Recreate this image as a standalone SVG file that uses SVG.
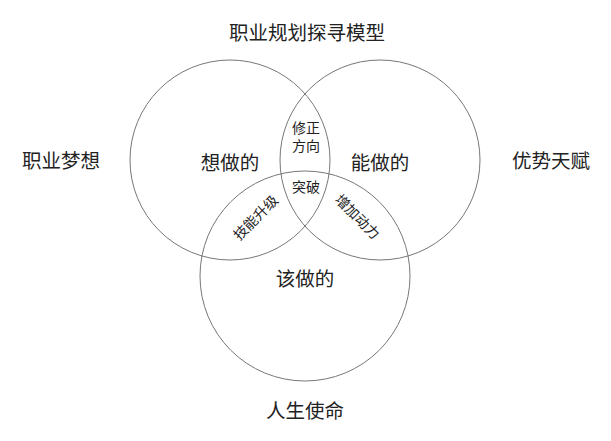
<svg xmlns="http://www.w3.org/2000/svg" width="611" height="441" viewBox="0 0 611 441">
<style>
.c{fill:none;stroke:#777;stroke-width:1}
text{font-family:"Noto Sans CJK SC","Noto Sans",sans-serif;fill:#222;text-anchor:middle;dominant-baseline:central}
.l{font-size:19.5px}
.s{font-size:14px}
</style>
<rect width="611" height="441" fill="#fff"/>
<g id="connectors"></g>
<g id="circle-want"><circle class="c" cx="230" cy="160" r="100"/><text class="l" x="230" y="161">想做的</text></g>
<g id="circle-can"><circle class="c" cx="380" cy="160" r="100"/><text class="l" x="380" y="161">能做的</text></g>
<g id="circle-should"><circle class="c" cx="305" cy="276" r="105"/><text class="l" x="305" y="277">该做的</text></g>
<g id="overlap-top"><text class="s" x="306" y="126.5">修正</text><text class="s" x="306" y="145">方向</text></g>
<g id="overlap-center"><text class="s" x="306" y="186">突破</text></g>
<g id="overlap-left"><text class="s" transform="translate(255,217) rotate(-45)">技能升级</text></g>
<g id="overlap-right"><text class="s" transform="translate(358,216) rotate(45)">增加动力</text></g>
<g id="title"><text class="l" x="307" y="31">职业规划探寻模型</text></g>
<g id="label-dream"><text class="l" x="61" y="159">职业梦想</text></g>
<g id="label-talent"><text class="l" x="551" y="159">优势天赋</text></g>
<g id="label-mission"><text class="l" x="305" y="409">人生使命</text></g>
</svg>
